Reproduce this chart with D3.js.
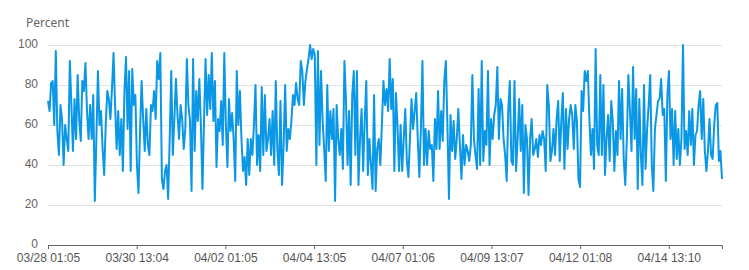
<!DOCTYPE html>
<html>
<head>
<meta charset="utf-8">
<script src="https://cdn.jsdelivr.net/npm/d3@7"></script>
<style>
  body { margin: 0; background: #fff; }
  svg { display: block; font-family: "Segoe UI", "Noto Sans", sans-serif; }
</style>
</head>
<body>
<svg id="chart"></svg>
<script>
// readings, one value roughly every hour
const startTime = new Date(2024, 2, 28, 1, 5);
const spanHours = 456;
const tickLabels = ["03/28 01:05", "03/30 13:04", "04/02 01:05", "04/04 13:05",
                    "04/07 01:06", "04/09 13:07", "04/12 01:08", "04/14 13:10"];
const tickHours = [0, 60, 120, 180, 240, 300, 360, 420];
const yTicks = [0, 20, 40, 60, 80, 100];
const percent = [
  72,67,81,82,60,97,57,45,70,63,40,60,53,47,92,70,47,73,53,85,63,52,82,77,91,67,53,70,53,75,22,53,87,60,67,48,35,60,77,73,63,78,96,70,48,67,45,63,37,77,94,58,
  87,37,88,70,75,40,26,57,82,63,47,68,50,45,70,67,77,63,92,83,96,33,28,37,40,23,53,87,45,63,83,65,53,70,63,48,58,93,70,62,27,93,47,77,62,83,60,28,62,93,65,85,68,96,
  62,82,39,63,57,72,50,96,60,39,73,57,66,53,32,87,60,77,53,37,44,30,53,35,53,45,60,80,40,55,37,79,45,75,47,53,63,45,67,40,82,48,35,72,30,50,80,47,58,53,62,75,70,81,73,
  70,92,87,70,82,88,93,100,93,98,95,40,97,50,87,63,48,32,80,47,67,53,68,22,70,53,45,58,38,92,72,40,67,30,75,87,45,87,30,53,68,37,62,82,35,53,40,28,75,27,48,53,40,
  60,82,70,78,67,93,68,83,37,76,60,37,60,37,53,68,42,34,53,73,58,67,76,53,34,58,92,40,58,40,57,48,50,32,63,48,77,48,67,52,82,92,60,23,65,47,62,43,53,68,50,33,55,40,50,47,
  42,50,85,53,45,38,78,40,92,42,57,50,87,40,63,53,65,70,89,53,73,70,53,45,32,67,82,42,40,82,37,53,73,47,70,26,60,53,25,53,63,45,48,53,44,55,50,57,53,37,80,70,42,47,58,
  45,63,72,42,62,76,38,68,48,63,70,65,48,70,62,33,29,77,67,87,82,87,63,45,58,38,98,50,45,85,45,80,35,53,65,42,72,62,37,57,45,82,53,78,43,30,53,85,67,47,89,53,78,28,73,
  45,30,80,38,58,70,85,40,27,58,65,72,73,83,65,68,32,75,87,53,68,40,67,43,58,40,53,100,48,57,45,67,50,68,40,55,57,70,77,53,73,47,37,47,63,45,43,60,70,71,42,47,33
];

const hour = 3600 * 1000;
const endTime = new Date(+startTime + spanHours * hour);
const stepMs = (endTime - startTime) / (percent.length - 1);
const data = percent.map(function(v, i) {
    return { date: new Date(+startTime + i * stepMs), value: v };
});

const svgWidth = 749, svgHeight = 270;
const margin = { top: 45, right: 27, bottom: 25, left: 48 };
const width = svgWidth - margin.left - margin.right;
const height = svgHeight - margin.top - margin.bottom;

const svg = d3.select("#chart").attr("width", svgWidth).attr("height", svgHeight);
const g = svg.append("g").attr("transform", "translate(" + margin.left + "," + margin.top + ")");

const x = d3.scaleTime().domain([startTime, endTime]).range([0, width]);
const y = d3.scaleLinear().domain([0, 100]).range([height, 0]);

// grid + y labels
const yAxis = g.append("g")
    .call(d3.axisLeft(y).tickValues(yTicks).tickSize(-width).tickPadding(10));
yAxis.select(".domain").remove();
yAxis.selectAll(".tick line").attr("stroke", "#e3e3e3").filter(function(d) { return d === 0; }).remove();
yAxis.selectAll(".tick text").attr("fill", "#666").attr("dy", "0.2em").style("font-size", "12px");

g.append("text")
    .attr("x", -22)
    .attr("y", -18)
    .attr("fill", "#666")
    .style("font-size", "12px")
    .text("Percent");

// x axis
const xAxis = g.append("g")
    .attr("transform", "translate(0," + height + ")")
    .call(d3.axisBottom(x)
        .tickValues(tickHours.map(function(h) { return new Date(+startTime + h * hour); }))
        .tickFormat(function(d, i) { return tickLabels[i]; })
        .tickSizeOuter(0)
        .tickSize(4)
        .tickPadding(4));
xAxis.select(".domain").attr("stroke", "#666");
xAxis.selectAll(".tick line").attr("stroke", "#666");
xAxis.selectAll(".tick text").attr("fill", "#555").style("font-size", "12px");

const line = d3.line()
    .x(function(d) { return x(d.date); })
    .y(function(d) { return y(d.value); });

g.append("path")
    .datum(data)
    .attr("fill", "none")
    .attr("stroke", "#0a97e6")
    .attr("stroke-width", 2)
    .attr("stroke-linejoin", "round")
    .attr("d", line);
</script>
</body>
</html>
